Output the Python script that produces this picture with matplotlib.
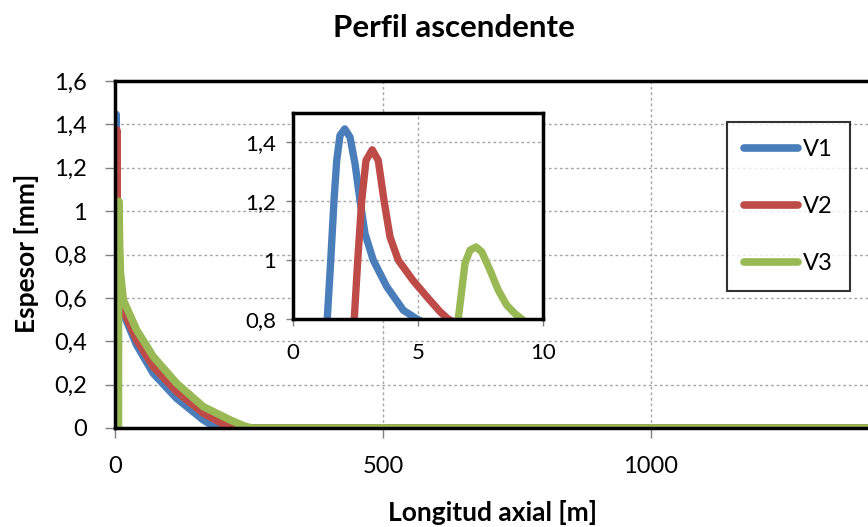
import matplotlib.pyplot as plt
from matplotlib.ticker import FuncFormatter

plt.rcParams['font.family'] = ['Lato', 'DejaVu Sans']

# thickness profiles along the pipe: x [m], espesor [mm]
v1_x = [0, 1.15, 1.37, 1.51, 1.64, 1.75, 1.88, 2.07, 2.28, 2.48, 2.68, 2.88, 3.21,
        3.75, 4.41, 4.95, 10, 15.5, 40.4, 71.5, 115, 165, 190, 1500]
v1_y = [0, 0, 0.8, 1.0, 1.203, 1.34, 1.424, 1.446, 1.418, 1.328, 1.203, 1.09, 1.0,
        0.91, 0.83, 0.8, 0.6, 0.529, 0.383, 0.252, 0.137, 0.037, 0, 0]

v2_x = [0, 2.25, 2.45, 2.59, 2.75, 2.92, 3.17, 3.41, 3.64, 3.88, 4.21, 4.81, 5.41,
        5.88, 6.2, 10, 15.5, 40.4, 71.5, 115, 165, 208, 225, 1500]
v2_y = [0, 0, 0.8, 1.0, 1.203, 1.339, 1.375, 1.339, 1.203, 1.079, 1.0, 0.93, 0.87,
        0.825, 0.8, 0.64, 0.544, 0.406, 0.283, 0.168, 0.068, 0.01, 0, 0]

v3_x = [0, 6.4, 6.61, 6.75, 6.88, 7.08, 7.32, 7.55, 7.88, 8.21, 8.55, 8.88, 9.15,
        10, 15.5, 40.4, 71.5, 115, 165, 215, 240, 255, 1500]
v3_y = [0, 0, 0.8, 0.898, 0.989, 1.034, 1.045, 1.028, 0.966, 0.898, 0.847, 0.818, 0.8,
        0.72, 0.59, 0.452, 0.329, 0.206, 0.098, 0.037, 0.01, 0, 0]

series = [("V1", v1_x, v1_y, "#4A7EBB"),
          ("V2", v2_x, v2_y, "#BE4B48"),
          ("V3", v3_x, v3_y, "#98B954")]

main_yticks = [0, 0.2, 0.4, 0.6, 0.8, 1.0, 1.2, 1.4, 1.6]
main_xticks = [0, 500, 1000]
inset_yticks = [0.8, 1.0, 1.2, 1.4]
inset_xticks = [0, 5, 10]

comma = FuncFormatter(lambda v, p: f"{v:g}".replace(".", ","))


def style_axes(ax, fs, lw):
    for side in ["left", "bottom", "top", "right"]:
        ax.spines[side].set_linewidth(lw)
        ax.spines[side].set_color("black")
    ax.grid(True, color="#A6A6A6", linestyle=(0, (2, 2)), linewidth=1)
    ax.set_axisbelow(True)
    ax.tick_params(direction="out", length=6, width=1, color="#808080",
                   labelsize=fs)
    ax.yaxis.set_major_formatter(comma)


fig = plt.figure(figsize=(8.68, 5.27), dpi=100)

ax = fig.add_axes([115 / 868, 99 / 527, 804 / 868, 347 / 527])
for name, x, y, c in series:
    ax.plot(x, y, color=c, lw=5.5, label=name, solid_joinstyle="round",
            solid_capstyle="round")
ax.set_xlim(0, 1500)
ax.set_ylim(0, 1.6)
ax.set_xticks(main_xticks)
ax.set_yticks(main_yticks)
style_axes(ax, 17, 2.5)
ax.tick_params(axis="both", length=7, pad=13)

fig.text(454 / 868, 1 - 37 / 527, "Perfil ascendente", ha="center", va="baseline",
         fontsize=22.5, fontweight="bold")
fig.text(493 / 868, 1 - 521 / 527, "Longitud axial [m]", ha="center",
         va="baseline", fontsize=19, fontweight="bold")
fig.text(27 / 868, 1 - 253 / 527, "Espesor [mm]", ha="center", va="center",
         rotation=90, fontsize=19, fontweight="bold")

leg = ax.legend(loc="upper left", bbox_to_anchor=(727 / 868, 1 - 122 / 527),
                bbox_transform=fig.transFigure, fontsize=17, frameon=True,
                fancybox=False, edgecolor="black", handlelength=2.3,
                handletextpad=0.2, labelspacing=1.53, borderpad=0.72,
                borderaxespad=0)
leg.get_frame().set_linewidth(1.5)

# zoom on the first metres
axi = fig.add_axes([293 / 868, 208 / 527, 250 / 868, 206 / 527])
axi.set_facecolor("white")
for name, x, y, c in series:
    axi.plot(x, y, color=c, lw=5.3, solid_joinstyle="round", solid_capstyle="round")
axi.set_xlim(0, 10)
axi.set_ylim(0.8, 1.5)
axi.set_xticks(inset_xticks)
axi.set_yticks(inset_yticks)
style_axes(axi, 16, 2.5)
axi.tick_params(axis="y", length=5, pad=7)
axi.tick_params(axis="x", length=5, pad=12)

fig.savefig("out.png", dpi=100)
